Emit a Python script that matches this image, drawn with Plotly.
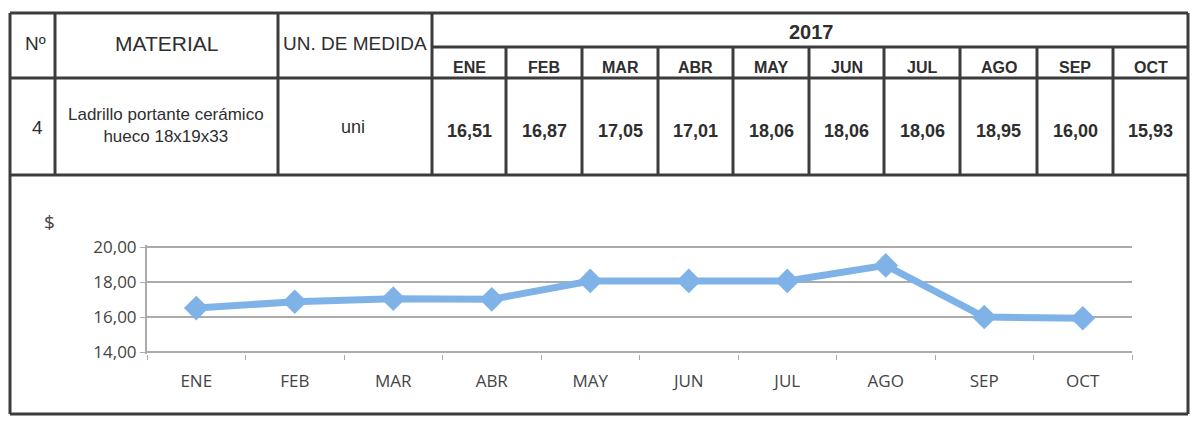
import plotly.graph_objects as go

# ------------------------------------------------------------
# Data
# ------------------------------------------------------------
year = "2017"
months = ["ENE", "FEB", "MAR", "ABR", "MAY", "JUN", "JUL", "AGO", "SEP", "OCT"]
prices = [16.51, 16.87, 17.05, 17.01, 18.06, 18.06, 18.06, 18.95, 16.00, 15.93]
item_no = "4"
material = "Ladrillo portante cerámico<br>hueco 18x19x33"
unit = "uni"
header_left = ["Nº", "MATERIAL", "UN. DE MEDIDA"]
y_ticks = [14, 16, 18, 20]

W, H = 1193, 425


def X(px):
    return px / W


def Y(py):
    return 1 - py / H


# column edges in pixels (table layout)
left_edges = [10, 55, 278, 432]
month_edges = [432, 506, 582, 658, 733, 809, 884, 960, 1037, 1113, 1188]
row_top, row_year, row_head, row_data, box_bottom = 13, 47, 78, 175, 414

border = "#3c3c3c"
table_font = "Liberation Sans, Arial, sans-serif"
chart_font = "Open Sans, sans-serif"
blue = "#7fb3e8"
grid = "#ababab"

fig = go.Figure()

# ------------------------------------------------------------
# Line chart
# ------------------------------------------------------------
fig.add_trace(
    go.Scatter(
        x=months,
        y=prices,
        mode="lines+markers",
        line=dict(color=blue, width=7),
        marker=dict(symbol="diamond", size=19, color=blue),
        hovertemplate="%{x}: %{y:.2f}<extra></extra>",
        showlegend=False,
    )
)

# ------------------------------------------------------------
# Table outline
# ------------------------------------------------------------
shapes = []


def hline(x0, x1, y, w=3):
    shapes.append(dict(type="line", xref="paper", yref="paper",
                       x0=X(x0), x1=X(x1), y0=Y(y), y1=Y(y),
                       line=dict(color=border, width=w)))


def vline(x, y0, y1, w=3):
    shapes.append(dict(type="line", xref="paper", yref="paper",
                       x0=X(x), x1=X(x), y0=Y(y0), y1=Y(y1),
                       line=dict(color=border, width=w)))


hline(10, 1188, row_top)
hline(432, 1188, row_year)
hline(10, 1188, row_head)
hline(10, 1188, row_data)
hline(10, 1188, box_bottom)
vline(10, row_top, box_bottom)
vline(1188, row_top, box_bottom)
for xe in left_edges[1:]:
    vline(xe, row_top, row_data)
for xe in month_edges[1:-1]:
    vline(xe, row_year, row_data)

annotations = []


def text(x, y, s, size, font=table_font, bold=False, color="#2e2e2e"):
    annotations.append(dict(
        xref="paper", yref="paper", x=X(x), y=Y(y), text=f"<b>{s}</b>" if bold else s,
        showarrow=False, xanchor="center", yanchor="middle",
        font=dict(family=font, size=size, color=color),
    ))


# header left
text(35, 43, header_left[0], 19)
text(166, 43, header_left[1], 21)
text(355, 43, header_left[2], 19)
text(37, 128, item_no, 19)
annotations.append(dict(
    xref="paper", yref="paper", x=X(166), y=Y(126), text=material,
    showarrow=False, align="center", xanchor="center", yanchor="middle",
    font=dict(family=table_font, size=17, color="#2e2e2e"),
))
text(353, 127, unit, 18)

# year header
text(812, 32, year, 20, bold=True)

# months + values
for i, (m, v) in enumerate(zip(months, prices)):
    cx = (month_edges[i] + month_edges[i + 1]) / 2
    text(cx, 67, m, 16, bold=True)
    text(cx, 131, f"{v:.2f}".replace(".", ","), 18, bold=True)

# currency label
text(49, 222, "$", 19, font=chart_font, color="#444")

# ------------------------------------------------------------
# Layout
# ------------------------------------------------------------
fig.update_layout(
    width=W,
    height=H,
    autosize=False,
    margin=dict(l=0, r=0, t=0, b=0, pad=0, autoexpand=False),
    paper_bgcolor="white",
    plot_bgcolor="white",
    separators=",.",
    shapes=shapes,
    annotations=annotations,
    xaxis=dict(
        domain=[X(147), X(1132)],
        type="category",
        range=[-0.5, 9.5],
        showgrid=False,
        showline=False,
        ticks="outside",
        tickson="boundaries",
        ticklen=5,
        tickcolor=grid,
        tickfont=dict(family=chart_font, size=17, color="#444"),
        ticklabelstandoff=15,
        automargin=False,
    ),
    yaxis=dict(
        domain=[Y(353.75), Y(245.25)],
        range=[13.9, 20.1],
        tickvals=y_ticks,
        tickformat=".2f",
        showgrid=True,
        gridcolor=grid,
        gridwidth=2,
        showline=True,
        linecolor=grid,
        linewidth=2,
        ticks="outside",
        ticklen=5,
        tickcolor=grid,
        zeroline=False,
        automargin=False,
        tickfont=dict(family=chart_font, size=17, color="#444"),
    ),
)

fig.write_html(
    "out.html",
    config={"displayModeBar": False},
    post_script="document.body.style.margin='0';document.body.style.overflow='hidden';",
)
